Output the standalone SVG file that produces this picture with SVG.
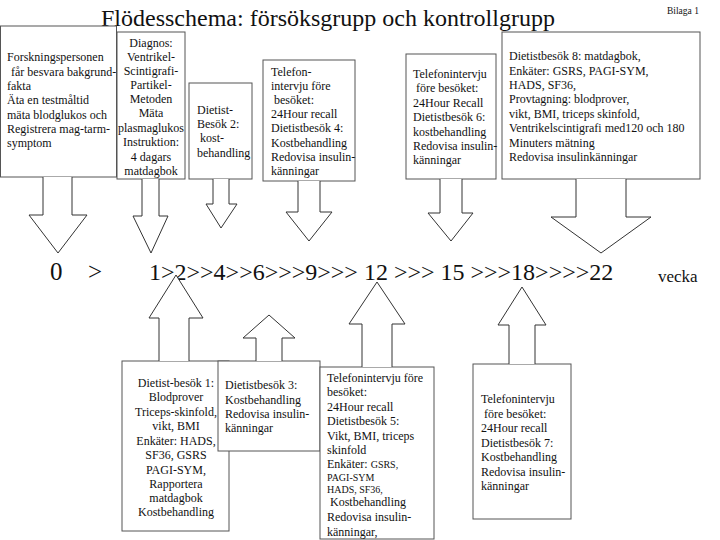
<svg xmlns="http://www.w3.org/2000/svg" width="720" height="540" viewBox="0 0 720 540">
<style>
.box{fill:#fff;stroke:#555;stroke-width:1}
.arrow{fill:#fff;stroke:#333;stroke-width:1}
text{font-family:"Liberation Serif","Times New Roman",serif;fill:#111}
.t{font-size:12px}
.c{text-anchor:middle}
.s{font-size:10px}
</style>
<rect width="720" height="540" fill="#fff"/>
<text x="101" y="26" font-size="24">Flödesschema: försöksgrupp och kontrollgrupp</text>
<text x="667" y="14" font-size="9.5">Bilaga 1</text>
<g id="timeline">
<text x="50" y="280" font-size="25">0</text>
<text x="88" y="280" font-size="25">&gt;</text>
<text x="149" y="280" font-size="24">1&gt;2&gt;&gt;4&gt;&gt;6&gt;&gt;&gt;9&gt;&gt;&gt; 12 &gt;&gt;&gt; 15 &gt;&gt;&gt;18&gt;&gt;&gt;&gt;22</text>
<text x="658" y="282" font-size="17">vecka</text>
</g>
<g id="n1">
<rect class="box" x="0.5" y="26" width="116" height="151"/>
<text class="t" x="7" y="61">Forskningspersonen</text>
<text class="t" x="11" y="75.5">får besvara bakgrund-</text>
<text class="t" x="7" y="90">fakta</text>
<text class="t" x="7" y="104">Äta en testmåltid</text>
<text class="t" x="7" y="118.5">mäta blodglukos och</text>
<text class="t" x="7" y="133">Registrera mag-tarm-</text>
<text class="t" x="7" y="147">symptom</text>
</g>
<g id="n2">
<rect class="box" x="117" y="32" width="68" height="147"/>
<text class="t c" x="151" y="47">Diagnos:</text>
<text class="t c" x="151" y="61">Ventrikel-</text>
<text class="t c" x="151" y="75">Scintigrafi-</text>
<text class="t c" x="151" y="89">Partikel-</text>
<text class="t c" x="151" y="103">Metoden</text>
<text class="t c" x="151" y="117">Mäta</text>
<text class="t c" x="151" y="132">plasmaglukos</text>
<text class="t c" x="151" y="146">Instruktion:</text>
<text class="t c" x="151" y="161">4 dagars</text>
<text class="t c" x="151" y="175">matdagbok</text>
</g>
<g id="n3">
<rect class="box" x="189" y="83" width="63" height="96"/>
<text class="t" x="197" y="114">Dietist-</text>
<text class="t" x="197" y="128">Besök 2:</text>
<text class="t" x="200" y="142">kost-</text>
<text class="t" x="197" y="157">behandling</text>
</g>
<g id="n4">
<rect class="box" x="263" y="60" width="92" height="121"/>
<text class="t" x="271" y="76">Telefon-</text>
<text class="t" x="271" y="90">intervju före</text>
<text class="t" x="274" y="104">besöket:</text>
<text class="t" x="271" y="118">24Hour recall</text>
<text class="t" x="271" y="132">Dietistbesök 4:</text>
<text class="t" x="271" y="147">Kostbehandling</text>
<text class="t" x="271" y="161">Redovisa insulin-</text>
<text class="t" x="271" y="175">känningar</text>
</g>
<g id="n5">
<rect class="box" x="406" y="54" width="90" height="125"/>
<text class="t" x="413" y="78">Telefonintervju</text>
<text class="t" x="416" y="92">före besöket:</text>
<text class="t" x="413" y="107">24Hour Recall</text>
<text class="t" x="413" y="121">Dietistbesök 6:</text>
<text class="t" x="413" y="136">kostbehandling</text>
<text class="t" x="413" y="150">Redovisa insulin-</text>
<text class="t" x="413" y="164">känningar</text>
</g>
<g id="n6">
<rect class="box" x="502" y="32" width="198" height="147"/>
<text class="t" x="509" y="60">Dietistbesök 8: matdagbok,</text>
<text class="t" x="509" y="75">Enkäter: GSRS, PAGI-SYM,</text>
<text class="t" x="509" y="89">HADS, SF36,</text>
<text class="t" x="509" y="103">Provtagning: blodprover,</text>
<text class="t" x="509" y="118">vikt, BMI, triceps skinfold,</text>
<text class="t" x="509" y="132">Ventrikelscintigrafi med120 och 180</text>
<text class="t" x="509" y="147">Minuters mätning</text>
<text class="t" x="509" y="161">Redovisa insulinkänningar</text>
</g>
<g id="nA">
<rect class="box" x="122" y="361" width="107" height="170"/>
<text class="t c" x="176" y="387">Dietist-besök 1:</text>
<text class="t c" x="176" y="401">Blodprover</text>
<text class="t c" x="176" y="416">Triceps-skinfold,</text>
<text class="t c" x="176" y="430">vikt, BMI</text>
<text class="t c" x="176" y="445">Enkäter: HADS,</text>
<text class="t c" x="176" y="459">SF36, GSRS</text>
<text class="t c" x="176" y="474">PAGI-SYM,</text>
<text class="t c" x="176" y="488">Rapportera</text>
<text class="t c" x="176" y="502">matdagbok</text>
<text class="t c" x="176" y="516">Kostbehandling</text>
</g>
<g id="nB">
<rect class="box" x="218" y="361" width="102" height="90"/>
<text class="t" x="225" y="389">Dietistbesök 3:</text>
<text class="t" x="225" y="404">Kostbehandling</text>
<text class="t" x="225" y="418">Redovisa insulin-</text>
<text class="t" x="225" y="432">känningar</text>
</g>
<g id="nC">
<rect class="box" x="320" y="367" width="114" height="172"/>
<text class="t" x="327" y="382">Telefonintervju före</text>
<text class="t" x="327" y="396">besöket:</text>
<text class="t" x="327" y="411">24Hour recall</text>
<text class="t" x="327" y="425">Dietistbesök 5:</text>
<text class="t" x="327" y="440">Vikt, BMI, triceps</text>
<text class="t" x="327" y="454">skinfold</text>
<text class="t" x="327" y="468">Enkäter: <tspan class="s">GSRS,</tspan></text>
<text class="s" x="327" y="481">PAGI-SYM</text>
<text class="s" x="327" y="493">HADS, SF36,</text>
<text class="t" x="330" y="506">Kostbehandling</text>
<text class="t" x="327" y="521">Redovisa insulin-</text>
<text class="t" x="327" y="536">känningar,</text>
</g>
<g id="nD">
<rect class="box" x="473" y="364" width="98" height="155"/>
<text class="t" x="481" y="403">Telefonintervju</text>
<text class="t" x="484" y="418">före besöket:</text>
<text class="t" x="481" y="432">24Hour recall</text>
<text class="t" x="481" y="447">Dietistbesök 7:</text>
<text class="t" x="481" y="461">Kostbehandling</text>
<text class="t" x="481" y="476">Redovisa insulin-</text>
<text class="t" x="481" y="490">känningar</text>
</g>
<g id="connectors">
<path class="arrow" d="M43,177 V215 H29 L58,253 L87,215 H72 V177"/>
<path class="arrow" d="M142,179 V216 H133 L151,253 L168,216 H159 V179"/>
<path class="arrow" d="M213,179 V204 H206 L221,228 L237,204 H229 V179"/>
<path class="arrow" d="M298,181 V212 H286 L309,241 L332,212 H320 V181"/>
<path class="arrow" d="M440,179 V213 H428 L451,241 L473,213 H462 V179"/>
<path class="arrow" d="M576,179 V217 H551 L601,253 L651,217 H626 V179"/>
<path class="arrow" d="M159,361 V318 H149 L176,275 L203,318 H189 V361"/>
<path class="arrow" d="M256,361 V338 H243 L269,315 L295,338 H282 V361"/>
<path class="arrow" d="M362,367 V324 H349 L377,282 L405,324 H392 V367"/>
<path class="arrow" d="M509,364 V325 H498 L522,287 L546,325 H535 V364"/>
</g>
</svg>
